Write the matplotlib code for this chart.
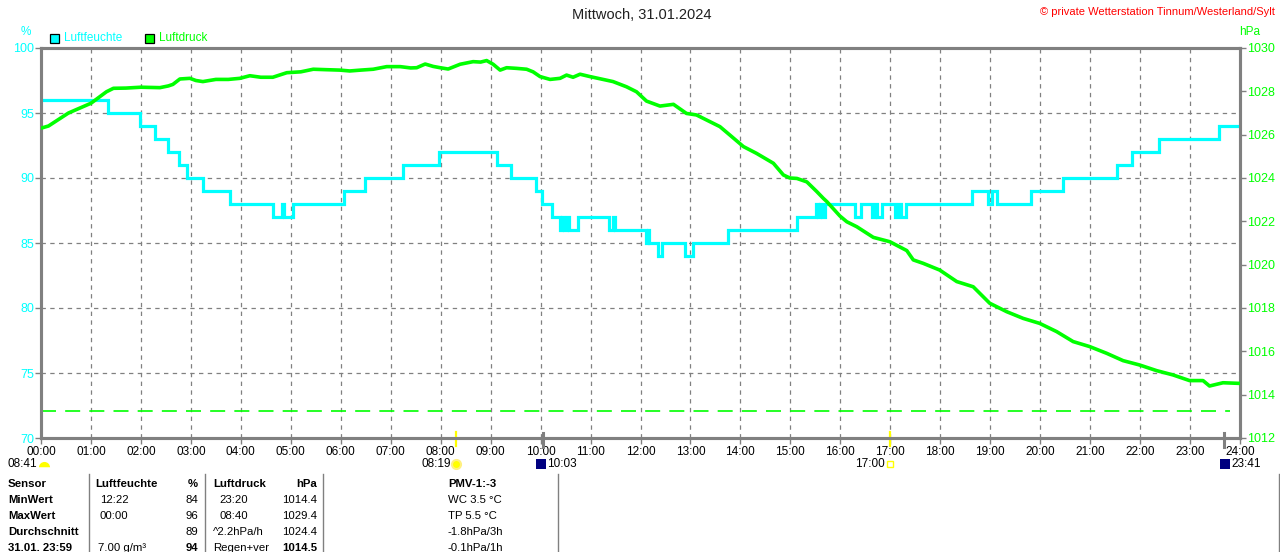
import matplotlib
matplotlib.use("Agg")
import matplotlib.pyplot as plt
from matplotlib.transforms import blended_transform_factory
from matplotlib.patches import Rectangle
from matplotlib.lines import Line2D

plt.rcParams['font.family'] = ['Liberation Sans', 'DejaVu Sans']

# ---------------- data ----------------
title = "Mittwoch, 31.01.2024"
copyright_txt = "© private Wetterstation Tinnum/Westerland/Sylt"

hour_ticks = list(range(0, 25))
hour_labels = [f"{h:02d}:00" for h in hour_ticks]
hum_ticks = [70, 75, 80, 85, 90, 95, 100]
press_ticks = [1012, 1014, 1016, 1018, 1020, 1022, 1024, 1026, 1028, 1030]

# humidity (%) step changes: time in hours, value held until next time
hum_t = [0, 1.34, 1.99, 2.28, 2.55, 2.76, 2.93, 3.24, 3.78, 4.65, 4.83, 4.87, 5.05,
         6.07, 6.49, 7.24, 7.97, 9.13, 9.40, 9.91, 10.02, 10.22, 10.38, 10.42, 10.46,
         10.52, 10.56, 10.75, 11.36, 11.44, 11.48, 12.12, 12.15, 12.18, 12.36, 12.44,
         12.89, 13.06, 13.76, 15.13, 15.52, 15.55, 15.60, 15.63, 15.70, 16.29, 16.42,
         16.63, 16.70, 16.74, 16.83, 17.09, 17.16, 17.21, 17.31, 18.63, 18.96, 19.03,
         19.13, 19.81, 20.45, 21.54, 21.83, 22.38, 23.57, 24.0]
hum_v = [96, 95, 94, 93, 92, 91, 90, 89, 88, 87, 88, 87, 88,
         89, 90, 91, 92, 91, 90, 89, 88, 87, 86, 87, 86,
         87, 86, 87, 86, 87, 86, 85, 86, 85, 84, 85,
         84, 85, 86, 87, 88, 87, 88, 87, 88, 87, 88,
         87, 88, 87, 88, 87, 88, 87, 88, 89, 88, 89,
         88, 89, 90, 91, 92, 93, 94, 94]

# air pressure (hPa)
press_t = [0.00, 0.15, 0.35, 0.55, 0.75, 1.00, 1.31, 1.45, 1.70, 2.00, 2.38, 2.55, 2.64,
           2.78, 2.98, 3.10, 3.24, 3.50, 3.75, 3.98, 4.18, 4.40, 4.64, 4.92, 5.20, 5.45,
           5.70, 5.98, 6.18, 6.40, 6.65, 6.92, 7.19, 7.40, 7.52, 7.69, 7.85, 7.99, 8.15,
           8.39, 8.65, 8.80, 8.92, 9.05, 9.19, 9.32, 9.52, 9.72, 9.85, 9.99, 10.19, 10.39,
           10.52, 10.65, 10.79, 10.99, 11.25, 11.45, 11.72, 11.92, 12.12, 12.39, 12.66,
           12.92, 13.12, 13.32, 13.59, 13.79, 14.06, 14.32, 14.66, 14.86, 14.99, 15.13,
           15.33, 15.53, 15.66, 15.73, 15.99, 16.13, 16.33, 16.66, 16.99, 17.33, 17.46,
           17.66, 17.99, 18.33, 18.66, 18.99, 19.33, 19.66, 19.99, 20.33, 20.66, 20.99,
           21.33, 21.66, 21.99, 22.33, 22.66, 22.99, 23.26, 23.39, 23.66, 24.00]
press_v = [1026.30, 1026.40, 1026.70, 1027.00, 1027.20, 1027.45, 1027.98, 1028.14, 1028.15,
           1028.19, 1028.17, 1028.25, 1028.32, 1028.57, 1028.60, 1028.50, 1028.45, 1028.55,
           1028.55, 1028.60, 1028.72, 1028.65, 1028.65, 1028.86, 1028.90, 1029.02, 1029.00,
           1028.98, 1028.94, 1028.98, 1029.02, 1029.14, 1029.14, 1029.08, 1029.09, 1029.26,
           1029.15, 1029.09, 1029.03, 1029.25, 1029.37, 1029.35, 1029.42, 1029.25, 1028.98,
           1029.09, 1029.06, 1029.02, 1028.90, 1028.68, 1028.55, 1028.60, 1028.75, 1028.65,
           1028.79, 1028.68, 1028.55, 1028.45, 1028.21, 1027.98, 1027.55, 1027.32, 1027.40,
           1026.98, 1026.91, 1026.68, 1026.37, 1025.98, 1025.45, 1025.14, 1024.68, 1024.14,
           1024.00, 1023.98, 1023.82, 1023.37, 1023.06, 1022.91, 1022.25, 1021.98, 1021.75,
           1021.26, 1021.06, 1020.65, 1020.22, 1020.06, 1019.75, 1019.22, 1018.98, 1018.22,
           1017.83, 1017.52, 1017.29, 1016.91, 1016.45, 1016.22, 1015.91, 1015.57, 1015.37,
           1015.11, 1014.91, 1014.65, 1014.65, 1014.40, 1014.55, 1014.52]

std_pressure = 1013.25

sunrise_h, sunset_h = 8 + 19/60, 17.0
moonrise_h, moonset_h = 10 + 3/60, 23 + 41/60
day_length = "08:41"
sunrise_lbl, sunset_lbl = "08:19", "17:00"
moon1_lbl, moon2_lbl = "10:03", "23:41"

table_header = ["Sensor", "Luftfeuchte", "%", "Luftdruck", "hPa", "PMV-1:-3"]
row_names = ["MinWert", "MaxWert", "Durchschnitt", "31.01. 23:59"]
hum_time = ["12:22", "00:00", "", "7.00 g/m³"]
hum_val = ["84", "96", "89", "94"]
press_time = ["23:20", "08:40", "^2.2hPa/h", "Regen+ver"]
press_val = ["1014.4", "1029.4", "1024.4", "1014.5"]
extra = ["WC 3.5 °C", "TP 5.5 °C", "-1.8hPa/3h", "-0.1hPa/1h"]

# ---------------- styling ----------------
CYAN = "#00FFFF"
GREEN = "#00FF00"
GRAY = "#808080"
W, H = 1280, 552

fig = plt.figure(figsize=(W/100, H/100), dpi=100)
fig.patch.set_facecolor("white")

def fx(px):
    return px / W

def fy(py):
    return 1 - py / H

ax = fig.add_axes([fx(41), fy(438), fx(1240) - fx(41), fy(48) - fy(438)])
ax.set_xlim(0, 24)
ax.set_ylim(70, 100)
ax.set_xticks(hour_ticks)
ax.set_xticklabels(hour_labels)
ax.set_yticks(hum_ticks)
ax.grid(True, color=GRAY, linestyle=(0, (3.5, 3.5)), linewidth=0.9)
for s in ax.spines.values():
    s.set_color(GRAY)
    s.set_linewidth(2.2)
ax.tick_params(axis='x', colors=GRAY, labelcolor="black", length=4, width=1,
               labelsize=8.5, pad=2)
ax.tick_params(axis='y', colors=GRAY, labelcolor=CYAN, length=4, width=1,
               labelsize=9, pad=1)

ax.step(hum_t, hum_v, where='post', color=CYAN, linewidth=2.3, zorder=3,
        solid_joinstyle='miter')

ax2 = ax.twinx()
ax2.set_ylim(1012, 1030)
ax2.set_yticks(press_ticks)
for s in ax2.spines.values():
    s.set_color(GRAY)
    s.set_linewidth(2.2)
ax2.tick_params(axis='y', colors=GRAY, labelcolor=GREEN, length=4, width=1,
                labelsize=9, pad=1)
ax2.plot(press_t, press_v, color=GREEN, linewidth=2.6, zorder=4)
ax2.axhline(std_pressure, xmax=0.992, color=GREEN, linewidth=1.2,
            linestyle=(0, (9, 5.5)))

# titles / labels
fig.text(fx(642), fy(15), title, ha='center', va='center', fontsize=10.5, color="#202020")
fig.text(fx(1275), fy(12), copyright_txt, ha='right', va='center', fontsize=8, color="#FF0000")
fig.text(fx(26), fy(32), "%", ha='center', va='center', fontsize=8.5, color=CYAN)
fig.text(fx(1250), fy(32), "hPa", ha='center', va='center', fontsize=8.5, color=GREEN)

# legend
for x0, col, lab in [(50, CYAN, "Luftfeuchte"), (145, GREEN, "Luftdruck")]:
    fig.patches.append(Rectangle((fx(x0), fy(43)), fx(9), fy(34) - fy(43),
                                 transform=fig.transFigure, facecolor=col,
                                 edgecolor="black", linewidth=0.9))
    fig.text(fx(x0 + 14), fy(38), lab, ha='left', va='center', fontsize=8.5, color=col)

# sun / moon markers below the axis
bt = blended_transform_factory(ax.transData, fig.transFigure)
for h, c in [(sunrise_h, "#FFFF00"), (sunset_h, "#FFFF00")]:
    ax.add_line(Line2D([h, h], [fy(446), fy(432)], transform=bt, color=c,
                       linewidth=1.6, clip_on=False, zorder=6))
for h in [moonrise_h, moonset_h]:
    ax.add_line(Line2D([h, h], [fy(447), fy(433)], transform=bt, color=GRAY,
                       linewidth=2.2, clip_on=False, zorder=6))

# day length with half sun
fig.text(fx(8), fy(464), day_length, ha='left', va='center', fontsize=8.5)
fig.add_artist(Line2D([fx(44)], [fy(467)], marker='o', markersize=8, fillstyle='top',
                      markerfacecolor="#FFFF00", markerfacecoloralt="white",
                      markeredgewidth=0, linestyle='none'))

# sunrise
fig.text(fx(451), fy(464), sunrise_lbl, ha='right', va='center', fontsize=8.5)
ax.plot([sunrise_h], [fy(464)], transform=bt, marker='o', markersize=6.5,
        color="#FFFF00", markeredgecolor="#FFF080", markeredgewidth=1.5, clip_on=False)
# moonrise
fig.patches.append(Rectangle((fx(536), fy(469)), fx(10), fy(459) - fy(469),
                             transform=fig.transFigure, facecolor="#000080", edgecolor="none"))
ax.plot([moonrise_h - 0.06], [fy(463)], transform=bt, marker='v', markersize=4,
        color="#FFFF00", clip_on=False)
fig.text(fx(547), fy(464), moon1_lbl, ha='left', va='center', fontsize=8.5)
# sunset
fig.text(fx(885), fy(464), sunset_lbl, ha='right', va='center', fontsize=8.5)
ax.plot([sunset_h], [fy(464)], transform=bt, marker='s', markersize=4.5,
        markerfacecolor="none", markeredgecolor="#FFFF00", markeredgewidth=1, clip_on=False)
# moonset
fig.patches.append(Rectangle((fx(1220), fy(469)), fx(10), fy(459) - fy(469),
                             transform=fig.transFigure, facecolor="#000080", edgecolor="none"))
ax.plot([moonset_h], [fy(464)], transform=bt, marker='^', markersize=4,
        color="#FFFF00", clip_on=False)
fig.text(fx(1231), fy(464), moon2_lbl, ha='left', va='center', fontsize=8.5)

# ---------------- table ----------------
for xs in [89, 205, 323, 558, 1279]:
    fig.add_artist(Line2D([fx(xs), fx(xs)], [fy(474), fy(552)], color=GRAY, linewidth=1.0))

row_y = [484, 500, 516, 532, 548]
fs = 8.2
hy = row_y[0]
fig.text(fx(8), fy(hy), table_header[0], ha='left', va='center', fontsize=fs, weight='bold')
fig.text(fx(95), fy(hy), table_header[1], ha='left', va='center', fontsize=fs, weight='bold')
fig.text(fx(198), fy(hy), table_header[2], ha='right', va='center', fontsize=fs, weight='bold')
fig.text(fx(213), fy(hy), table_header[3], ha='left', va='center', fontsize=fs, weight='bold')
fig.text(fx(317), fy(hy), table_header[4], ha='right', va='center', fontsize=fs, weight='bold')
fig.text(fx(448), fy(hy), table_header[5], ha='left', va='center', fontsize=fs, weight='bold')

for i in range(4):
    y = row_y[i + 1]
    last = (i == 3)
    fig.text(fx(8), fy(y), row_names[i], ha='left', va='center', fontsize=fs, weight='bold')
    fig.text(fx(100 if i < 3 else 98), fy(y), hum_time[i], ha='left', va='center', fontsize=fs)
    fig.text(fx(198), fy(y), hum_val[i], ha='right', va='center', fontsize=fs,
             weight='bold' if last else 'normal')
    fig.text(fx(219 if i < 2 else 213), fy(y), press_time[i], ha='left', va='center', fontsize=fs)
    fig.text(fx(317), fy(y), press_val[i], ha='right', va='center', fontsize=fs,
             weight='bold' if last else 'normal')
    fig.text(fx(448), fy(y), extra[i], ha='left', va='center', fontsize=fs)

fig.savefig("out.png", dpi=100, facecolor="white")
